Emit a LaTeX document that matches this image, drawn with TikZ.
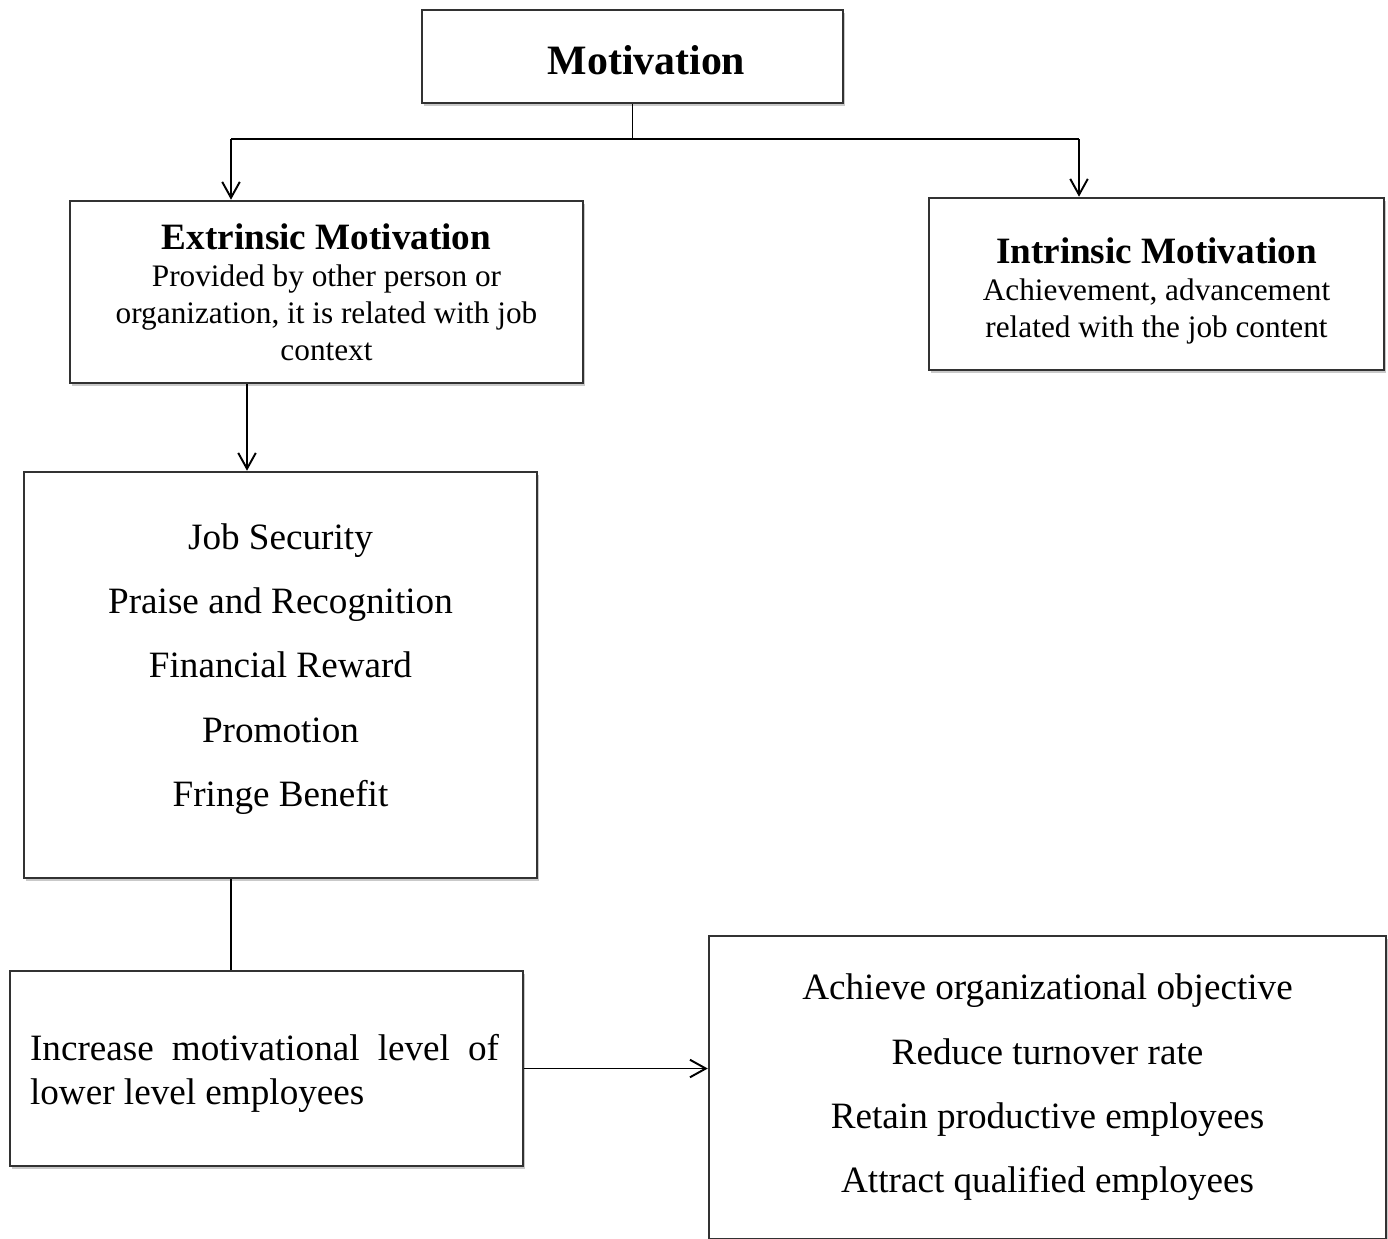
\documentclass[tikz,border=0pt]{standalone}
\usepackage{fontspec}
\setmainfont{Liberation Serif}
\usepackage{tikz}
\usetikzlibrary{arrows.meta,shadows}
\definecolor{boxedge}{RGB}{50,50,50}

\begin{document}
\begin{tikzpicture}[x=0.02cm, y=-0.02cm,
    box/.style={draw=boxedge, line width=1.5pt, fill=white, align=center, inner sep=0pt,
        drop shadow={shadow xshift=1.2pt, shadow yshift=-1.8pt, opacity=0.3, fill=black!70}},
    link/.style={line width=1.1pt},
    >={Straight Barb[length=9pt,width=10pt]}]
    \path[use as bounding box, clip] (0,0) rectangle (1388,1238);

    \node[box, minimum width=8.42cm, minimum height=1.86cm] (motiv) at (632.5,56.5) {};
    \node[font=\fontsize{23.8}{28}\selectfont\bfseries] (motivtxt) at (646.5,60.5) {Motivation};

    \node[box, minimum width=10.26cm, minimum height=3.64cm, font=\fontsize{17.8}{21}\selectfont] (extr) at (326.5,292)
        {{\fontsize{21.15}{23}\selectfont\bfseries Extrinsic Motivation}\\ Provided by other person or\\ organization, it is related with job\\ context};
    \node[box, minimum width=9.10cm, minimum height=3.44cm] (intr) at (1156.5,284) {};
    \node[align=center, font=\fontsize{17.8}{21}\selectfont] (intrtxt) at (1156.5,291)
        {{\fontsize{21.15}{23}\selectfont\bfseries Intrinsic Motivation}\\ Achievement, advancement\\ related with the job content};

    \node[box, minimum width=10.26cm, minimum height=8.12cm] (factors) at (280.5,675) {};
    \node[align=center, font=\fontsize{21.15}{36.6}\selectfont] (factorstxt) at (280.5,669)
        {Job Security\\ Praise and Recognition\\ Financial Reward\\ Promotion\\ Fringe Benefit};

    \node[box, minimum width=10.26cm, minimum height=3.90cm] (increase) at (266.5,1068.5) {};
    \node[text width=9.38cm, align=justify, font=\fontsize{21.15}{25.5}\selectfont] (increasetxt) at (264.5,1073.5)
        {Increase motivational level of lower level employees};

    \node[box, minimum width=13.54cm, minimum height=6.06cm, font=\fontsize{21.15}{36.6}\selectfont] (outcome) at (1047.5,1087.5)
        {Achieve organizational objective\\ Reduce turnover rate\\ Retain productive employees\\ Attract qualified employees};

    \coordinate (busL) at (231,139);
    \coordinate (busR) at (1079,139);
    \coordinate (e2f) at (247,0);

    \draw[link] (motiv.south) -- (motiv.south |- busL);
    \draw[link] (busL) -- (busR);
    \draw[link, ->] (busL) -- (busL |- extr.north);
    \draw[link, ->] (busR) -- (busR |- intr.north);
    \draw[link, ->] (extr.south -| e2f) -- (factors.north -| e2f);
    \draw[link] (factors.south -| busL) -- (increase.north -| busL);
    \draw[link, ->] (increase.east) -- (increase.east -| outcome.west);
\end{tikzpicture}
\end{document}
